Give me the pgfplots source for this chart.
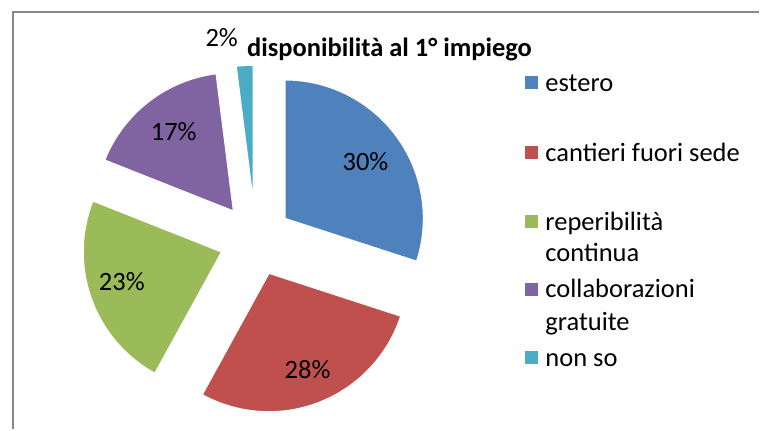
\documentclass[border=0pt]{standalone}
\usepackage{pgfplots}
\pgfplotsset{compat=1.18}
\usepackage{fontspec}
\setmainfont{Carlito}
\definecolor{cA}{HTML}{4F81BD}
\definecolor{cB}{HTML}{C0504D}
\definecolor{cC}{HTML}{9BBB59}
\definecolor{cD}{HTML}{8064A2}
\definecolor{cE}{HTML}{4BACC6}
\definecolor{frame}{HTML}{878787}
\newcommand\lbl{\fontsize{26.5}{31}\selectfont}
\begin{document}
\begin{tikzpicture}
\begin{axis}[
  scale only axis, width=760pt, height=430pt,
  xmin=0, xmax=760, ymin=0, ymax=430,
  hide axis, clip=false,
]
% keep the whole 760x430 canvas
\path (axis cs:0,0) rectangle (axis cs:760,430);
% page frame (left and top edges only, the rest is cropped)
\draw[frame, line width=2pt] (axis cs:13,0) -- (axis cs:13,418) -- (axis cs:760,418);
% pie: centre (256,190), explode 36, radius 139 -- all in pt
\def\cx{256}\def\cy{190}\def\d{36}\def\r{139}
\xdef\s{90}
% value / colour / label position
\foreach \v/\col/\lx/\ly in {30/cA/366/268, 28/cB/308/60, 23/cC/122/148, 17/cD/174/298, 2/cE/0/0} {
  \pgfmathsetmacro\e{\s-\v*3.6}
  \pgfmathsetmacro\m{(\s+\e)/2}
  \pgfmathsetmacro\vx{\cx+\d*cos(\m)}
  \pgfmathsetmacro\vy{\cy+\d*sin(\m)}
  \edef\tmp{\noexpand\fill[\col, draw=white, line width=1.5pt]
    (axis cs:\vx,\vy) -- ++(\s:\r pt) arc[start angle=\s, end angle=\e, radius=\r pt] -- cycle;}
  \tmp
  \ifdim\v pt>5pt
    \edef\tmp{\noexpand\node[font=\noexpand\lbl, inner sep=0pt] at (axis cs:\lx,\ly) {\v\noexpand\%};}
    \tmp
  \fi
  \xdef\s{\e}
}
\node[font=\lbl, anchor=base, inner sep=0pt] at (axis cs:222,383) {2\%};
% title
\node[font=\lbl\bfseries, anchor=base, inner sep=0pt] at (axis cs:390,373) {disponibilità al 1° impiego};
% legend
\foreach \col/\yy in {cA/347, cB/277, cC/208, cD/140, cE/72} {
  \edef\tmp{\noexpand\fill[\col] (axis cs:526,\yy-6.5) rectangle (axis cs:539,\yy+6.5);}
  \tmp
}
\foreach \t/\yy in {estero/338, cantieri fuori sede/268, reperibilità/199, continua/168,
                     collaborazioni/132, gratuite/99, non so/63} {
  \edef\tmp{\noexpand\node[font=\noexpand\lbl, anchor=base west, inner sep=0pt] at (axis cs:546,\yy) {\t};}
  \tmp
}
\end{axis}
\end{tikzpicture}
\end{document}
